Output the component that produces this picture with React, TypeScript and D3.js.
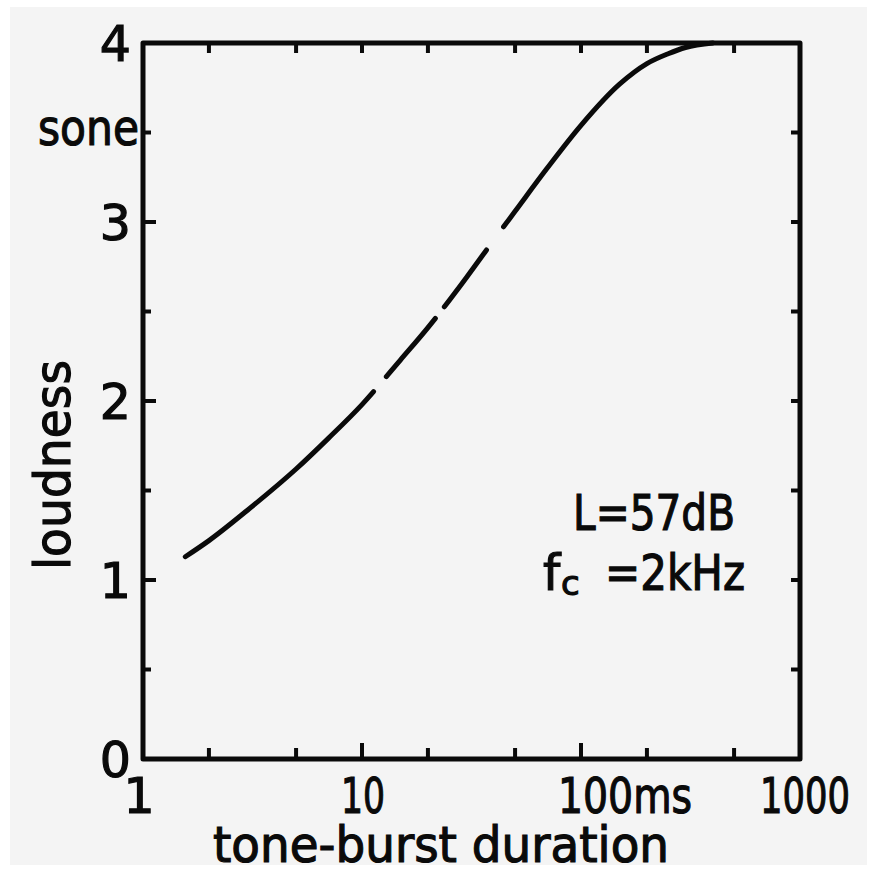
import React, { useEffect, useRef, useState } from "react";
import * as d3 from "d3";

// Loudness of a tone burst versus its duration
const durationMs = [1.56, 2, 3, 5, 7, 10, 15, 20, 30, 40, 50, 70, 100, 150, 200, 250, 300, 400];
const loudnessSone = [1.13, 1.22, 1.39, 1.62, 1.79, 1.98, 2.23, 2.41, 2.69, 2.9, 3.06, 3.3, 3.54, 3.77, 3.885, 3.94, 3.975, 4.0];
// Short breaks in the drawn curve (duration ranges in ms)
const curveGapsMs: [number, number][] = [
  [11.5, 12.7],
  [22.0, 23.4],
  [37.6, 43.6],
];

const xDecades = [1, 10, 100, 1000];
const xTickLabels = ["1", "10", "100ms", "1000"];
const xSubTicks = [2, 5, 20, 50, 200, 500];
const yTicks = [0, 1, 2, 3, 4];
const yHalfTicks = [0.5, 1.5, 2.5, 3.5];
const yUnitLabel = "sone";
const yAxisTitle = "loudness";
const xAxisTitle = "tone-burst duration";
const levelNote = "L=57dB";
const freqNote = "=2kHz";

const W = 869;
const H = 880;
const FONT = "'DejaVu Sans', sans-serif";
const FS = 49;
const INK = "#0a0a0a";

export default function App() {
  const pathRef = useRef<SVGPathElement>(null);
  const [dash, setDash] = useState<string | undefined>(undefined);

  const x = d3.scaleLog().domain([1, 1000]).range([143, 800]);
  const y = d3.scaleLinear().domain([0, 4]).range([759, 43]);

  const line = d3
    .line<number>()
    .x((_, i) => x(durationMs[i]))
    .y((v) => y(v))
    .curve(d3.curveMonotoneX);
  const d = line(loudnessSone) ?? "";

  useEffect(() => {
    const p = pathRef.current;
    if (!p) return;
    const total = p.getTotalLength();
    const lenAtX = (px: number) => {
      let lo = 0;
      let hi = total;
      for (let k = 0; k < 40; k++) {
        const mid = (lo + hi) / 2;
        if (p.getPointAtLength(mid).x < px) lo = mid;
        else hi = mid;
      }
      return (lo + hi) / 2;
    };
    // visible pieces of the curve, compensated for round caps
    const cap = 2.5;
    const parts: number[] = [];
    let start = 0;
    curveGapsMs.forEach(([a, b]) => {
      const la = lenAtX(x(a));
      const lb = lenAtX(x(b));
      parts.push(Math.max(0.1, la - start - (start === 0 ? cap : 2 * cap)));
      parts.push(lb - la + 2 * cap);
      start = lb;
    });
    parts.push(total - start + 20);
    setDash(parts.join(" "));
  }, []);

  const [x0, x1] = x.range();
  const [y0, y1] = y.range();

  return (
    <svg
      width={W}
      height={H}
      style={{ position: "absolute", left: 0, top: 0, background: "#fff" }}
    >
      <rect x={10} y={7} width={857} height={858} fill="#f4f4f4" />

      {/* frame */}
      <rect
        x={x0}
        y={y1}
        width={x1 - x0}
        height={y0 - y1}
        fill="none"
        stroke={INK}
        strokeWidth={5}
        strokeLinejoin="round"
      />

      {/* left ticks */}
      {yTicks.slice(1, -1).map((v) => (
        <line key={`lm${v}`} x1={x0} x2={x0 + 13} y1={y(v)} y2={y(v)} stroke={INK} strokeWidth={4} />
      ))}
      {yHalfTicks.map((v) => (
        <line key={`lh${v}`} x1={x0} x2={x0 + 8} y1={y(v)} y2={y(v)} stroke={INK} strokeWidth={4} />
      ))}
      {/* right ticks */}
      {[...yTicks.slice(1, -1), ...yHalfTicks].map((v) => (
        <line key={`r${v}`} x1={x1} x2={x1 - 9} y1={y(v)} y2={y(v)} stroke={INK} strokeWidth={4} />
      ))}
      {/* bottom ticks */}
      {[...xSubTicks, 10, 100].map((v) => (
        <line
          key={`b${v}`}
          x1={x(v)}
          x2={x(v)}
          y1={y0}
          y2={y0 - (v === 10 || v === 100 ? 16 : 11)}
          stroke={INK}
          strokeWidth={4}
        />
      ))}
      {/* top ticks */}
      {[...xSubTicks, 10, 100].map((v) => (
        <line key={`t${v}`} x1={x(v)} x2={x(v)} y1={y1} y2={y1 + 10} stroke={INK} strokeWidth={4} />
      ))}

      {/* loudness curve */}
      <path
        ref={pathRef}
        d={d}
        fill="none"
        stroke={INK}
        strokeWidth={5}
        strokeLinecap="round"
        strokeDasharray={dash}
      />

      <g fontFamily={FONT} fontSize={FS} fill={INK} stroke={INK} strokeWidth={1.2}>
        {/* y tick labels */}
        {yTicks.map((v) => (
          <text key={`yl${v}`} x={131} y={y(v) + 18} textAnchor="end">
            {v}
          </text>
        ))}
        <text x={38} y={145} textLength={101} lengthAdjust="spacingAndGlyphs">
          {yUnitLabel}
        </text>

        {/* x tick labels */}
        <text x={x(xDecades[0]) - 4} y={813} textAnchor="middle">
          {xTickLabels[0]}
        </text>
        <text x={341} y={813} textLength={44} lengthAdjust="spacingAndGlyphs">
          {xTickLabels[1]}
        </text>
        <text x={558} y={813} textLength={134} lengthAdjust="spacingAndGlyphs">
          {xTickLabels[2]}
        </text>
        <text x={760} y={813} textLength={90} lengthAdjust="spacingAndGlyphs">
          {xTickLabels[3]}
        </text>

        {/* axis titles */}
        <text
          transform="translate(70,465) rotate(-90)"
          textAnchor="middle"
          textLength={210}
          lengthAdjust="spacingAndGlyphs"
        >
          {yAxisTitle}
        </text>
        <text x={213} y={862} textLength={456} lengthAdjust="spacingAndGlyphs">
          {xAxisTitle}
        </text>

        {/* condition notes */}
        <text x={573} y={530} textLength={162} lengthAdjust="spacingAndGlyphs">
          {levelNote}
        </text>
        <text x={543} y={590}>
          f
        </text>
        <text x={561} y={595} fontSize={34}>
          c
        </text>
        <text x={605} y={590} textLength={140} lengthAdjust="spacingAndGlyphs">
          {freqNote}
        </text>
      </g>
    </svg>
  );
}
